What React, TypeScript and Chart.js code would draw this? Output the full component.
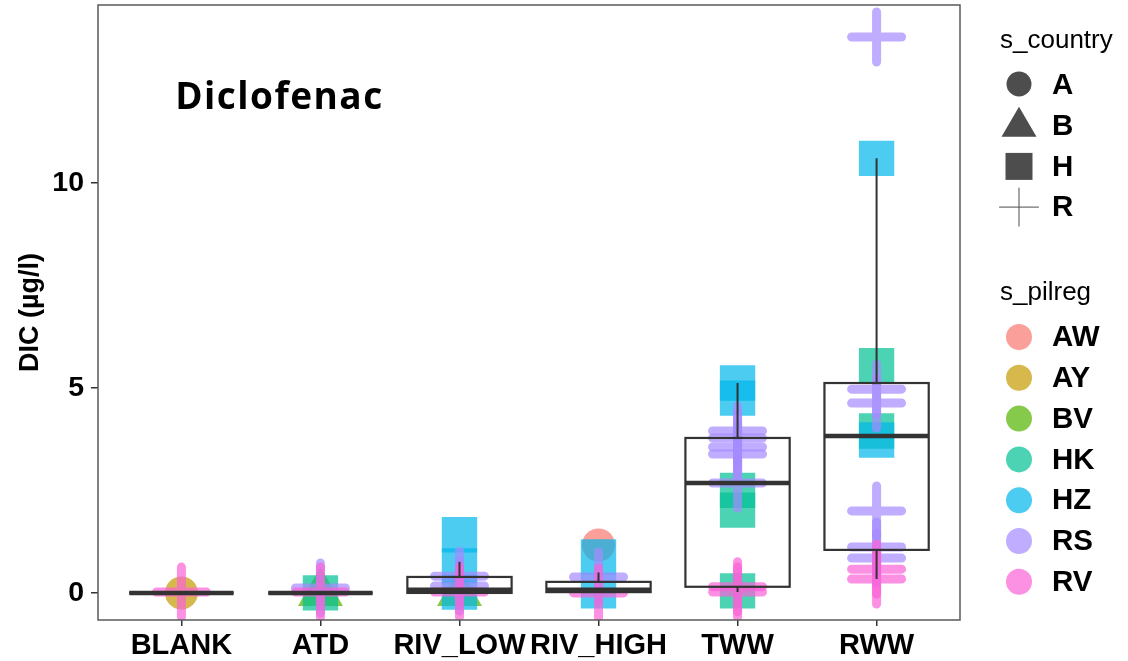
import React, { useEffect, useRef } from "react";
import { Chart, registerables } from "chart.js";

Chart.register(...registerables);

// ---- data ----
const categories = ["BLANK", "ATD", "RIV_LOW", "RIV_HIGH", "TWW", "RWW"];
const yTicks = [0, 5, 10];

const countries = ["A", "B", "H", "R"];
const pilregs = ["AW", "AY", "BV", "HK", "HZ", "RS", "RV"];
const pilregColors = ["#F8766D", "#C49A00", "#53B400", "#00C094", "#00B6EB", "#A58AFF", "#FB61D7"];
const pilregCountry = ["A", "A", "B", "H", "H", "R", "R"];

const awCat = [3];
const awVal = [1.17];
const ayCat = [0];
const ayVal = [0];
const bvCat = [1, 2];
const bvVal = [0, 0];
const hkCat = [1, 4, 4, 4, 5, 5];
const hkVal = [0.0, 2.5, 2.02, 0.05, 5.54, 3.95];
const hzCat = [2, 2, 2, 3, 3, 4, 4, 5, 5];
const hzVal = [1.42, 0.66, 0.02, 0.88, 0.05, 5.12, 4.75, 3.73, 10.6];
const rsCat = [1, 2, 2, 3, 4, 4, 4, 4, 4, 5, 5, 5, 5, 5, 5];
const rsVal = [0.12, 0.41, 0.17, 0.39, 3.95, 3.78, 3.56, 3.39, 2.68, 13.56, 4.97, 4.63, 2.0, 1.12, 0.85];
const rvCat = [0, 1, 2, 3, 4, 4, 5, 5];
const rvVal = [0.02, 0.02, 0.02, 0.0, 0.15, 0.02, 0.58, 0.34];

const groupCats = [awCat, ayCat, bvCat, hkCat, hzCat, rsCat, rvCat];
const groupVals = [awVal, ayVal, bvVal, hkVal, hzVal, rsVal, rvVal];

// box-plot statistics per category
const boxLow = [0, 0, 0, 0, 0.02, 0.34];
const boxQ1 = [0, 0, 0, 0.02, 0.15, 1.05];
const boxMed = [0, 0, 0.08, 0.08, 2.68, 3.83];
const boxQ3 = [0, 0, 0.39, 0.27, 3.78, 5.12];
const boxHigh = [0, 0, 0.76, 0.5, 5.12, 10.6];

const titleText = "Diclofenac";
const yTitle = "DIC (µg/l)";

// ---- styles ----
const ALPHA = 0.7;
const shapeOf: Record<string, string> = { A: "circle", B: "triangle", H: "rect", R: "cross" };
const radiusOf: Record<string, number> = { circle: 16.5, triangle: 26, rect: 25, cross: 25 };

function rgba(hex: string, a: number) {
  const n = parseInt(hex.slice(1), 16);
  return `rgba(${(n >> 16) & 255},${(n >> 8) & 255},${n & 255},${a})`;
}

const FONT = "'Liberation Sans', Arial, sans-serif";

const boxPlugin = {
  id: "boxes",
  beforeDatasetsDraw(chart: any) {
    chart.ctx.lineCap = "round";
  },
  afterDatasetsDraw(chart: any) {
    const { ctx, scales } = chart;
    const xs = scales.x;
    const ys = scales.y;
    ctx.save();
    ctx.lineCap = "butt";
    ctx.strokeStyle = "#333333";
    for (let i = 0; i < categories.length; i++) {
      const xl = xs.getPixelForValue(i - 0.375);
      const xr = xs.getPixelForValue(i + 0.375);
      const xc = xs.getPixelForValue(i);
      const yq1 = ys.getPixelForValue(boxQ1[i]);
      const yq3 = ys.getPixelForValue(boxQ3[i]);
      const ym = ys.getPixelForValue(boxMed[i]);
      const ylo = ys.getPixelForValue(boxLow[i]);
      const yhi = ys.getPixelForValue(boxHigh[i]);
      // whiskers
      ctx.lineWidth = 2;
      ctx.beginPath();
      ctx.moveTo(xc, yq3);
      ctx.lineTo(xc, yhi);
      ctx.moveTo(xc, yq1);
      ctx.lineTo(xc, ylo);
      ctx.stroke();
      // box
      ctx.lineWidth = 2.2;
      ctx.strokeRect(xl, yq3, xr - xl, yq1 - yq3);
      // median
      ctx.lineWidth = 4.5;
      ctx.beginPath();
      ctx.moveTo(xl, ym);
      ctx.lineTo(xr, ym);
      ctx.stroke();
    }
    // annotation title
    ctx.fillStyle = "#000";
    ctx.font = "bold 37px 'Open Sans', Lato, 'Liberation Sans', sans-serif";
    ctx.textAlign = "left";
    ctx.textBaseline = "alphabetic";
    const plain = ctx.measureText(titleText).width;
    const targetW = 207;
    (ctx as any).letterSpacing = `${Math.max(0, (targetW - plain) / (titleText.length - 1))}px`;
    ctx.fillText(titleText, xs.getPixelForValue(-0.045), ys.getPixelForValue(11.8));
    (ctx as any).letterSpacing = "0px";
    ctx.restore();
  },
  afterDraw(chart: any) {
    const { ctx, chartArea } = chart;
    ctx.save();
    // panel border
    ctx.strokeStyle = "#5a5a5a";
    ctx.lineWidth = 1.5;
    ctx.strokeRect(chartArea.left, chartArea.top, chartArea.right - chartArea.left, chartArea.bottom - chartArea.top);

    // legends
    const symX = 1019;
    const labX = 1052;
    ctx.fillStyle = "#000";
    ctx.textAlign = "left";
    ctx.textBaseline = "middle";
    ctx.font = `26px ${FONT}`;
    ctx.fillText("s_country", 1000, 41);
    const cy0 = 85;
    const step = 40.7;
    countries.forEach((c, k) => {
      const y = cy0 + k * step;
      ctx.fillStyle = "#4D4D4D";
      ctx.strokeStyle = "#4D4D4D";
      const shape = shapeOf[c];
      ctx.beginPath();
      if (shape === "circle") {
        ctx.arc(symX, y - 1, 12.5, 0, Math.PI * 2);
        ctx.fill();
      } else if (shape === "triangle") {
        ctx.moveTo(symX, y - 19);
        ctx.lineTo(symX + 17.5, y + 11);
        ctx.lineTo(symX - 17.5, y + 11);
        ctx.closePath();
        ctx.fill();
      } else if (shape === "rect") {
        ctx.rect(symX - 13.5, y - 13.5, 27, 27);
        ctx.fill();
      } else {
        ctx.lineWidth = 1;
        ctx.moveTo(symX, y - 19);
        ctx.lineTo(symX, y + 19);
        ctx.moveTo(symX - 19.5, y);
        ctx.lineTo(symX + 19.5, y);
        ctx.stroke();
      }
      ctx.fillStyle = "#000";
      ctx.font = `bold 29.5px ${FONT}`;
      ctx.fillText(c, labX, y + 1);
    });

    ctx.font = `26px ${FONT}`;
    ctx.fillText("s_pilreg", 1000, 293);
    const py0 = 337;
    pilregs.forEach((p, k) => {
      const y = py0 + k * 40.8;
      ctx.fillStyle = rgba(pilregColors[k], ALPHA);
      ctx.beginPath();
      ctx.arc(symX, y, 13, 0, Math.PI * 2);
      ctx.fill();
      ctx.fillStyle = "#000";
      ctx.font = `bold 29.5px ${FONT}`;
      ctx.fillText(p, labX, y + 1);
    });
    ctx.restore();
  },
};

export default function App() {
  const ref = useRef<HTMLCanvasElement | null>(null);

  useEffect(() => {
    if (!ref.current) return;
    const datasets = pilregs.map((p, k) => {
      const shape = shapeOf[pilregCountry[k]];
      const col = rgba(pilregColors[k], ALPHA);
      const isCross = shape === "cross";
      return {
        label: p,
        data: groupCats[k].map((c, j) => ({ x: c, y: groupVals[k][j] })),
        pointStyle: shape,
        pointRadius: radiusOf[shape],
        pointHoverRadius: radiusOf[shape],
        backgroundColor: isCross ? "rgba(0,0,0,0)" : col,
        borderColor: isCross ? col : "rgba(0,0,0,0)",
        pointBorderWidth: isCross ? 9 : 0,
        borderWidth: isCross ? 9 : 0,
        showLine: false,
        clip: 0,
        order: pilregs.length - k,
      };
    });

    const chart = new Chart(ref.current, {
      type: "scatter",
      data: { datasets: datasets as any },
      plugins: [boxPlugin],
      options: {
        animation: false,
        responsive: false,
        events: [],
        layout: { autoPadding: false, padding: { left: 0, top: 5, right: 168, bottom: 0 } },
        plugins: { legend: { display: false }, tooltip: { enabled: false } },
        scales: {
          x: {
            type: "linear",
            min: -0.6,
            max: 5.6,
            afterBuildTicks: (s: any) => {
              s.ticks = categories.map((_, i) => ({ value: i }));
            },
            afterFit: (s: any) => {
              s.height = 41;
              s.paddingLeft = 0;
              s.paddingRight = 0;
            },
            ticks: {
              autoSkip: false,
              maxRotation: 0,
              minRotation: 0,
              padding: 3,
              color: "#000",
              font: { family: FONT, size: 29, weight: "bold" },
              callback: (v: any) => categories[Math.round(Number(v))] ?? "",
            },
            grid: { display: true, drawOnChartArea: false, drawTicks: true, tickLength: 6, color: "#333", lineWidth: 1.5 },
            border: { display: false },
          },
          y: {
            type: "linear",
            min: -0.66,
            max: 14.34,
            afterBuildTicks: (s: any) => {
              s.ticks = yTicks.map((v) => ({ value: v }));
            },
            afterFit: (s: any) => {
              s.width = 98;
              s.paddingTop = 0;
              s.paddingBottom = 0;
            },
            title: {
              display: true,
              text: yTitle,
              color: "#000",
              font: { family: FONT, size: 27, weight: "bold" },
              padding: { top: 14, bottom: 0 },
            },
            ticks: {
              padding: 7,
              color: "#000",
              font: { family: FONT, size: 28.5, weight: "bold" },
              callback: (v: any) => String(v),
            },
            grid: { display: true, drawOnChartArea: false, drawTicks: true, tickLength: 7, color: "#333", lineWidth: 1.5 },
            border: { display: false },
          },
        },
      } as any,
    });
    return () => chart.destroy();
  }, []);

  return (
    <div style={{ position: "absolute", left: 0, top: 0, width: 1128, height: 661, background: "#fff" }}>
      <canvas ref={ref} width={1128} height={661} style={{ display: "block", width: 1128, height: 661 }} />
    </div>
  );
}
